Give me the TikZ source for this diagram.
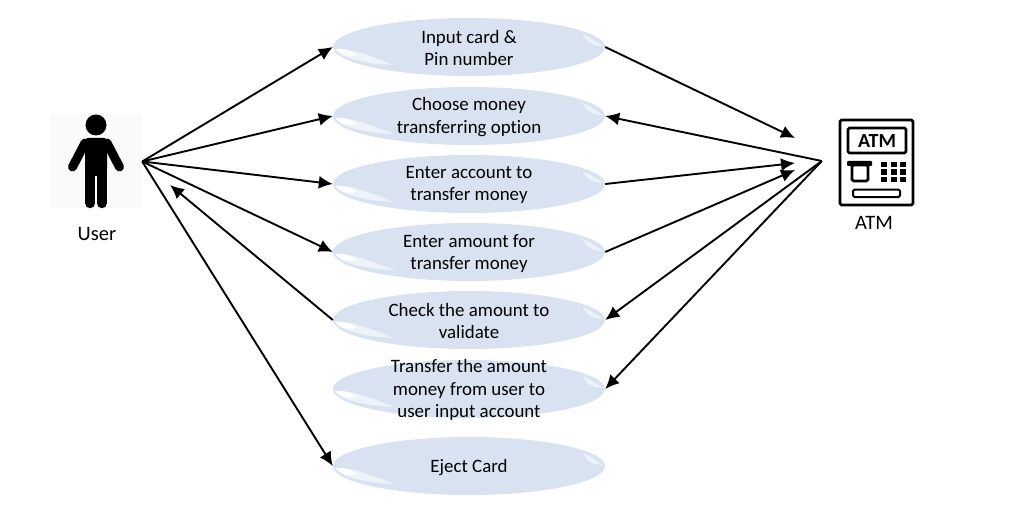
\documentclass[tikz,border=0pt]{standalone}
\usepackage{fontspec}
\setmainfont[Ligatures=NoCommon]{Carlito}
\usetikzlibrary{arrows.meta,shapes.geometric}
\definecolor{casefill}{HTML}{D9E2F1}
\definecolor{hatchfill}{HTML}{FAFAFA}
\tikzstyle{usecase}=[ellipse, fill=casefill, inner sep=0pt
,minimum width=272pt, minimum height=58pt
]
\tikzstyle{case text}=[inner sep=0pt, align=center, yshift=-1.2pt, font=\fontsize{18.9}{22.3}\selectfont]
\tikzstyle{actor box}=[inner sep=0pt, minimum width=92pt, minimum height=93pt]
\tikzstyle{actor label}=[font=\fontsize{20.5}{22}\selectfont]
\tikzstyle{edge}=[draw, line width=1.9pt, -{Latex[length=14pt,width=13pt]}]
\tikzstyle{icon line}=[draw, line width=2.6pt, rounded corners=1.5pt]
\tikzstyle{soft gloss}=[fill=casefill!45!white]
\tikzstyle{gloss}=[fill=white]

\begin{document}
\begin{tikzpicture}[x=1pt,y=-1pt]
    \useasboundingbox (0,0) rectangle (1035,513);
    % First we draw the actors
    \node[actor box, fill=hatchfill] (user) at (96,161.5) {};
    \node[actor box, minimum width=104pt] (atm) at (874,161) {};
    \node[actor label] (userlabel) at (97,233.5) {User};
    \node[actor label] (atmlabel) at (874,223) {ATM};

    % The person
    \fill (96,125) circle (10.5);
    \fill[rounded corners=3pt] (85,138) -- (107,138) -- (107,172) -- (85,172) -- cycle;
    \draw[line width=9pt, line cap=round] (85,143) -- (72.5,167);
    \draw[line width=9pt, line cap=round] (107,143) -- (119.5,167);
    \draw[line width=10.5pt, line cap=round] (90.2,168) -- (90.2,203);
    \draw[line width=10.5pt, line cap=round] (101.8,168) -- (101.8,203);
    \fill (85,160) rectangle (107,176);

    % The machine
    \path[icon line] (840,120) rectangle (913,205);
    \path[icon line] (848,128) rectangle (906,153);
    \node[inner sep=0pt, font=\fontsize{20}{20}\selectfont\bfseries] (atmtext) at (877,141) {ATM};
    \fill[rounded corners=1pt] (847,161) rectangle (872,166);
    \path[icon line] (852,165) rectangle (868,181);
    \foreach \x in {884,893.5,903}
        \foreach \y in {164.5,172,179.5}
            \fill (\x-3,\y-2.9) rectangle (\x+3,\y+2.9);
    \path[icon line, line width=2pt] (853,189.5) rectangle (900,197);

    % Then the use cases
    \foreach \pos/\name/\txt in {{(469,47)/c1/Input card \&\\Pin number},
        {(469,116)/c2/Choose money\\transferring option},
        {(469,184)/c3/Enter account to\\transfer money},
        {(469,252)/c4/Enter amount for\\transfer money},
        {(469,320)/c5/Check the amount to\\validate},
        {(469,389)/c6/Transfer the amount\\money from user to\\user input account},
        {(469,466)/c7/Eject Card}}
    {
        \node[usecase] (\name) at \pos {};
        \begin{scope}[shift={(\name.center)}]
            \path[soft gloss] (-134,2) .. controls (-120,1) and (-105,6) .. (-75,18) .. controls (-100,17) and (-128,12) .. (-134,2);
            \path[soft gloss] (134,-1) .. controls (128,-5) and (122,-9) .. (114,-13) .. controls (116,-7) and (122,-1) .. (134,-1);
            \path[gloss] (-133,2) .. controls (-125,1) and (-118,4) .. (-112,8) .. controls (-120,10) and (-130,8) .. (-133,2);
        \end{scope}
        \node[case text] (\name text) at (\name.center) {\txt};
    }

    % Free ends of the arrows
    \coordinate (checkend) at (170,185);
    \coordinate (cardend) at (795,138);
    \coordinate (acctend) at (795,163);
    \coordinate (amountend) at (795,170);

    % Connect with edges
    \foreach \source/\dest in {user.east/c1.west, user.east/c2.west, user.east/c3.west, user.east/c4.west, user.east/c7.west,
        c5.west/checkend, c1.east/cardend, c3.east/acctend, c4.east/amountend,
        atm.west/c2.east, atm.west/c5.east, atm.west/c6.east}
        \path[edge] (\source) -- (\dest);
\end{tikzpicture}
\end{document}
